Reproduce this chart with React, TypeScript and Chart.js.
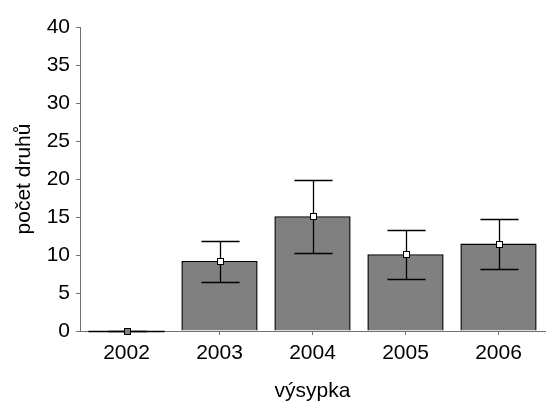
import React, { useEffect, useRef } from "react";
import { Chart, registerables } from "chart.js";

Chart.register(...registerables);

// Mean species count per spoil heap year, with its error range
const years = ["2002", "2003", "2004", "2005", "2006"];
const means = [0, 9.2, 15.1, 10.1, 11.5];
const errHigh = [0, 11.8, 19.9, 13.3, 14.8];
const errLow = [0, 6.4, 10.2, 6.9, 8.1];
const yTicks = [0, 5, 10, 15, 20, 25, 30, 35, 40];

const FONT = "'Liberation Sans', Arial, sans-serif";

// Whiskers with caps plus a small square at the mean of each bar
const errorBarPlugin = {
  id: "errorBars",
  afterDatasetsDraw(chart: any) {
    const ctx = chart.ctx;
    const yScale = chart.scales.y;
    const meta = chart.getDatasetMeta(0);
    ctx.save();
    meta.data.forEach((bar: any, i: number) => {
      const x = Math.round(bar.x) + 0.5;
      const yHi = Math.round(yScale.getPixelForValue(errHigh[i])) + 0.5;
      const yLo = Math.round(yScale.getPixelForValue(errLow[i])) + 0.5;
      const yM = Math.round(yScale.getPixelForValue(means[i])) + 0.5;
      ctx.strokeStyle = "#000";
      ctx.lineWidth = 1.3;
      if (means[i] === 0) {
        // zero-height bar: show its outline as a flat line
        ctx.beginPath();
        ctx.moveTo(bar.x - bar.width / 2, yM);
        ctx.lineTo(bar.x + bar.width / 2, yM);
        ctx.stroke();
      }
      const cap = bar.width * 0.25;
      ctx.beginPath();
      ctx.moveTo(x, yHi);
      ctx.lineTo(x, yLo);
      ctx.moveTo(x - cap, yHi);
      ctx.lineTo(x + cap, yHi);
      ctx.moveTo(x - cap, yLo);
      ctx.lineTo(x + cap, yLo);
      ctx.stroke();
      ctx.fillStyle = means[i] === 0 ? "#808080" : "#fff";
      ctx.lineWidth = 1;
      ctx.fillRect(x - 3, yM - 3, 6, 6);
      ctx.strokeRect(x - 3, yM - 3, 6, 6);
    });
    ctx.restore();
  },
};

export default function App() {
  const ref = useRef<HTMLCanvasElement>(null);

  useEffect(() => {
    if (!ref.current) return;
    const chart = new Chart(ref.current, {
      type: "bar",
      data: {
        labels: years,
        datasets: [
          {
            data: means,
            backgroundColor: "#808080",
            borderColor: "#000",
            borderWidth: 1.5,
            borderSkipped: "start",
            barPercentage: 0.82,
            categoryPercentage: 1,
          },
        ],
      },
      options: {
        animation: false,
        responsive: false,
        devicePixelRatio: 1,
        layout: { padding: { top: 27, right: 2, left: 0, bottom: 0 } },
        plugins: {
          legend: { display: false },
          tooltip: { enabled: false },
        },
        scales: {
          x: {
            offset: true,
            grid: {
              offset: false,
              drawOnChartArea: false,
              drawTicks: true,
              tickLength: 4,
              color: "#707070",
            },
            border: { display: true, color: "#707070", width: 1 },
            ticks: {
              color: "#000",
              font: { family: FONT, size: 21 },
              padding: 6,
              maxRotation: 0,
            },
            title: {
              display: true,
              text: "výsypka",
              color: "#000",
              font: { family: FONT, size: 21 },
              padding: { top: 0, bottom: 3 },
            },
            afterFit(scale: any) {
              scale.height = 76;
            },
          },
          y: {
            min: 0,
            max: 40,
            afterBuildTicks(scale: any) {
              scale.ticks = yTicks.map((v) => ({ value: v }));
            },
            grid: {
              drawOnChartArea: false,
              drawTicks: true,
              tickLength: 4,
              color: "#707070",
            },
            border: { display: true, color: "#707070", width: 1 },
            ticks: {
              color: "#000",
              font: { family: FONT, size: 21 },
              padding: 6,
            },
            title: {
              display: true,
              text: "počet druhů",
              color: "#000",
              font: { family: FONT, size: 21 },
              padding: { top: 12, bottom: 0 },
            },
            afterFit(scale: any) {
              scale.width = 80;
            },
          },
        },
      },
      plugins: [errorBarPlugin],
    });
    return () => chart.destroy();
  }, []);

  return (
    <div style={{ position: "absolute", left: 0, top: 0, width: 547, height: 407, background: "#fff" }}>
      <canvas ref={ref} width={547} height={407} />
    </div>
  );
}
